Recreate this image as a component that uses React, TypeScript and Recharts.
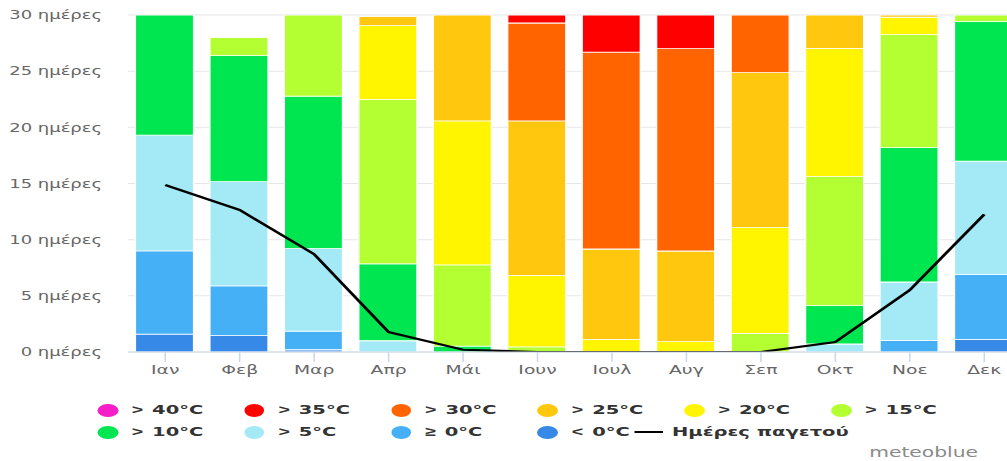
import React from 'react';
import { ComposedChart, Bar, Line, XAxis, YAxis, CartesianGrid, Legend } from 'recharts';

const months = ['Ιαν', 'Φεβ', 'Μαρ', 'Απρ', 'Μάι', 'Ιουν', 'Ιουλ', 'Αυγ', 'Σεπ', 'Οκτ', 'Νοε', 'Δεκ'];

const below0 = [1.6, 1.45, 0.2, 0, 0, 0, 0, 0, 0, 0, 0, 1.13];
const above0 = [7.4, 4.43, 1.65, 0, 0, 0, 0, 0, 0, 0, 1.04, 5.75];
const above5 = [10.3, 9.28, 7.36, 1.0, 0, 0, 0, 0, 0, 0.71, 5.19, 10.12];
const above10 = [11.71, 11.22, 13.56, 6.85, 0.53, 0, 0, 0, 0, 3.41, 11.96, 12.43];
const above15 = [0, 1.6, 8.24, 14.63, 7.22, 0.45, 0, 0, 1.66, 11.49, 10.06, 1.57];
const above20 = [0, 0, 0, 6.57, 12.82, 6.38, 1.13, 0.92, 9.41, 11.42, 1.55, 0];
const above25 = [0, 0, 0, 0.8, 10.43, 13.74, 8.04, 8.07, 13.8, 3.97, 0.2, 0];
const above30 = [0, 0, 0, 0, 0, 8.72, 17.53, 18.01, 5.13, 0, 0, 0];
const above35 = [0, 0, 0, 0, 0, 0.7, 4.3, 4.0, 0, 0, 0, 0];
const above40 = [0, 0, 0, 0, 0, 0, 0, 0, 0, 0, 0, 0];
const frostDays = [14.87, 12.64, 8.7, 1.78, 0.2, 0, 0, 0, 0, 0.89, 5.52, 12.26];

const yTicks = [0, 5, 10, 15, 20, 25, 30];

const series = [
  { key: 'below0', sym: '<', label: '0°C', color: '#3789e8', values: below0 },
  { key: 'above0', sym: '≥', label: '0°C', color: '#45b0f5', values: above0 },
  { key: 'above5', sym: '>', label: '5°C', color: '#a3e9f6', values: above5 },
  { key: 'above10', sym: '>', label: '10°C', color: '#00e650', values: above10 },
  { key: 'above15', sym: '>', label: '15°C', color: '#b4ff32', values: above15 },
  { key: 'above20', sym: '>', label: '20°C', color: '#fff500', values: above20 },
  { key: 'above25', sym: '>', label: '25°C', color: '#ffc80f', values: above25 },
  { key: 'above30', sym: '>', label: '30°C', color: '#ff6400', values: above30 },
  { key: 'above35', sym: '>', label: '35°C', color: '#ff0000', values: above35 },
  { key: 'above40', sym: '>', label: '40°C', color: '#f51ec8', values: above40 },
];

const legendRow1 = ['above40', 'above35', 'above30', 'above25', 'above20', 'above15'];
const legendRow2 = ['above10', 'above5', 'above0', 'below0'];
const frostName = 'Ημέρες παγετού';

const data = months.map((m, i) => {
  const row: Record<string, any> = { month: m, frost: frostDays[i] };
  series.forEach((s) => {
    row[s.key] = s.values[i];
  });
  return row;
});

const FONT = "'DejaVu Sans', Verdana, sans-serif";
const SCALE = 1.5;

const renderLegend = () => {
  const colX = (i: number) => 71.8 + i * 97.8;
  const item = (key: string, i: number, cy: number) => {
    const s = series.find((x) => x.key === key)!;
    return (
      <React.Fragment key={key}>
        <div
          style={{
            position: 'absolute',
            left: colX(i) - 6.8,
            top: cy - 6.5,
            width: 13.6,
            height: 13,
            borderRadius: '50%',
            background: s.color,
          }}
        />
        <div
          style={{
            position: 'absolute',
            left: colX(i) + 16,
            top: cy - 8,
            height: 16,
            lineHeight: '16px',
            fontSize: 13,
            fontWeight: 'bold',
            color: '#333',
            whiteSpace: 'nowrap',
          }}
        >
          <span
            style={{
              fontFamily: "'Liberation Sans', Arial, sans-serif",
              fontWeight: 'bold',
              fontSize: 13,
              marginRight: 6,
            }}
          >
            {s.sym}
          </span>
          {s.label}
        </div>
      </React.Fragment>
    );
  };
  return (
    <div style={{ position: 'relative', width: 681, height: 61, fontFamily: FONT }}>
      {legendRow1.map((k, i) => item(k, i, 10))}
      {legendRow2.map((k, i) => item(k, i, 32))}
      <div style={{ position: 'absolute', left: 423.3, top: 31, width: 18.7, height: 2.4, background: '#000' }} />
      <div
        style={{
          position: 'absolute',
          left: 448,
          top: 24,
          height: 16,
          lineHeight: '16px',
          fontSize: 13,
          fontWeight: 'bold',
          color: '#333',
          whiteSpace: 'nowrap',
        }}
      >
        {frostName}
      </div>
      <div
        style={{
          position: 'absolute',
          right: 681 - 652,
          top: 44,
          height: 16,
          lineHeight: '16px',
          fontSize: 13.5,
          color: '#8a8a8a',
          whiteSpace: 'nowrap',
        }}
      >
        meteoblue
      </div>
    </div>
  );
};

export default function App() {
  return (
    <div
      style={{
        position: 'absolute',
        left: 0,
        top: 0,
        width: 1007,
        height: 461,
        overflow: 'hidden',
        background: '#fff',
        fontFamily: FONT,
      }}
    >
      <div style={{ transform: `scaleX(${SCALE})`, transformOrigin: '0 0', width: 681, height: 461 }}>
        <ComposedChart
          width={681}
          height={461}
          data={data}
          margin={{ top: 15, right: 0, bottom: 0, left: 0 }}
        >
          <CartesianGrid vertical={false} stroke="#e6e6e6" />
          <XAxis
            dataKey="month"
            height={48}
            axisLine={{ stroke: '#ccd6eb' }}
            tickLine={{ stroke: '#ccd6eb' }}
            tickSize={10}
            tickMargin={3}
            tick={{ fill: '#666', fontSize: 12.5, fontFamily: FONT }}
            interval={0}
          />
          <YAxis
            type="number"
            domain={[0, 30]}
            ticks={yTicks}
            allowDataOverflow
            width={85.33}
            axisLine={false}
            tickLine={false}
            tickSize={0}
            tickMargin={17.3}
            tickFormatter={(v: number) => `${v} ημέρες`}
            tick={{ fill: '#666', fontSize: 12, fontFamily: FONT }}
          />
          {series.map((s) => (
            <Bar
              key={s.key}
              dataKey={s.key}
              name={`${s.sym} ${s.label}`}
              stackId="temp"
              fill={s.color}
              stroke="#ffffff"
              strokeWidth={0.8}
              barSize={38.67}
              isAnimationActive={false}
            />
          ))}
          <Line
            type="linear"
            dataKey="frost"
            name={frostName}
            stroke="#000"
            strokeWidth={2.2}
            dot={false}
            activeDot={false}
            isAnimationActive={false}
          />
          <Legend verticalAlign="bottom" content={renderLegend} />
        </ComposedChart>
      </div>
    </div>
  );
}
